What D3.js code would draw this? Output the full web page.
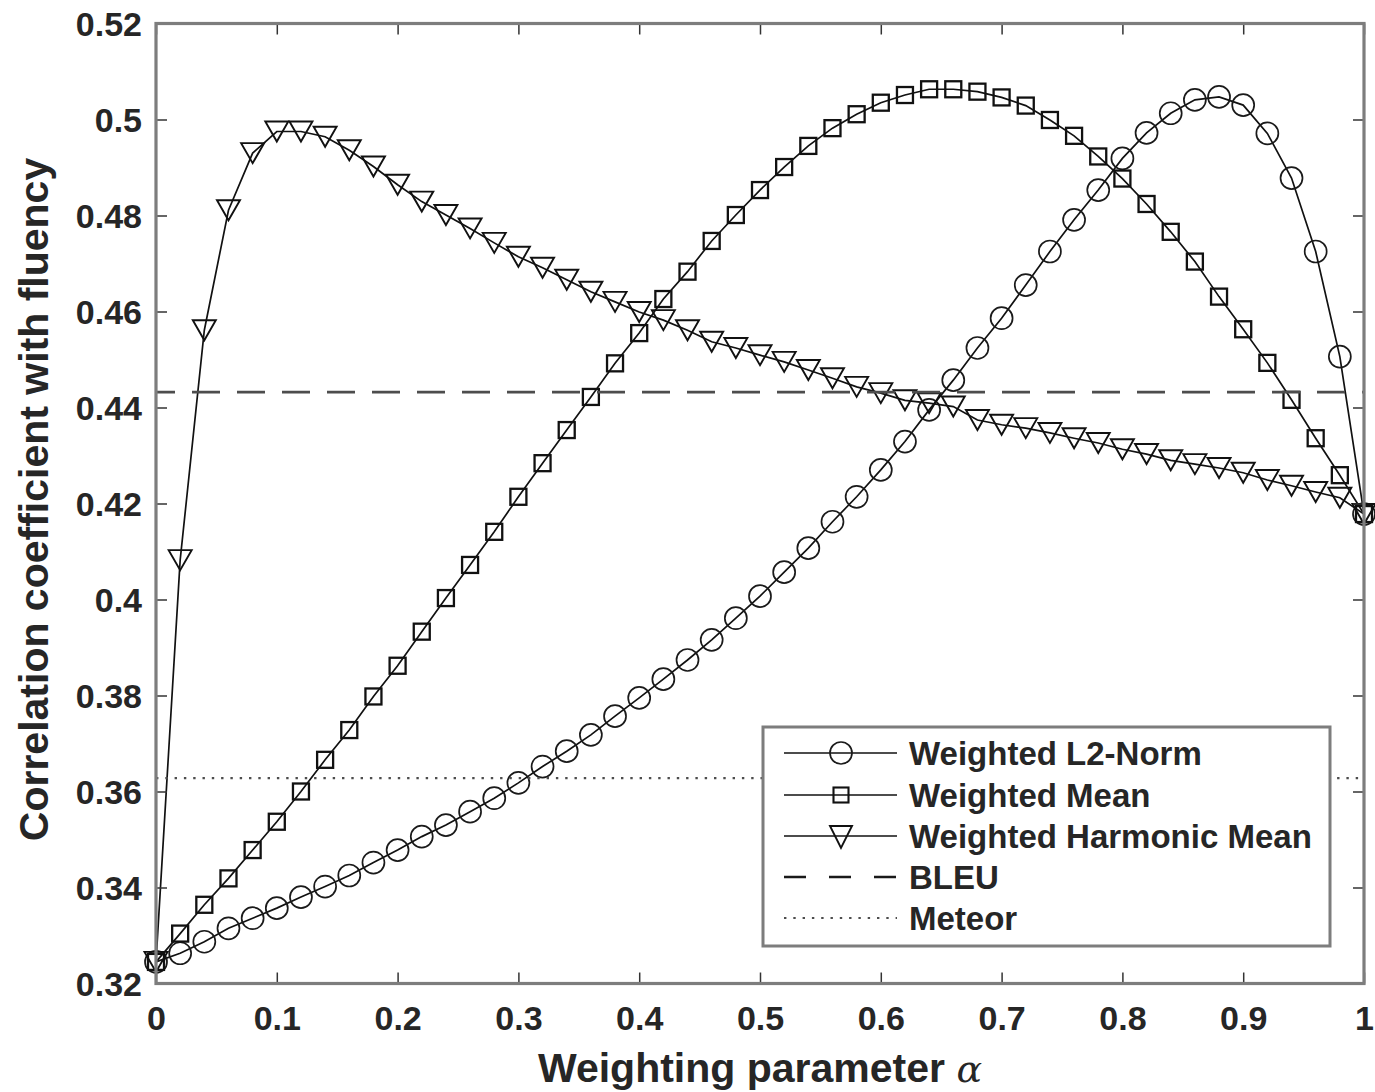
<!DOCTYPE html>
<html>
<head>
<meta charset="utf-8">
<script src="https://cdn.jsdelivr.net/npm/d3@7"></script>
<style>
  html, body { margin: 0; padding: 0; background: #fff; }
  svg { display: block; }
  text { font-family: "Liberation Sans", Arial, Helvetica, sans-serif; font-weight: bold; fill: #262626; }
</style>
</head>
<body>
<svg id="chart" width="1375" height="1092"></svg>
<script>
// Weighting parameter alpha (x positions of the markers)
const alpha = [0.00, 0.02, 0.04, 0.06, 0.08, 0.10, 0.12, 0.14, 0.16, 0.18,
               0.20, 0.22, 0.24, 0.26, 0.28, 0.30, 0.32, 0.34, 0.36, 0.38,
               0.40, 0.42, 0.44, 0.46, 0.48, 0.50, 0.52, 0.54, 0.56, 0.58,
               0.60, 0.62, 0.64, 0.66, 0.68, 0.70, 0.72, 0.74, 0.76, 0.78,
               0.80, 0.82, 0.84, 0.86, 0.88, 0.90, 0.92, 0.94, 0.96, 0.98, 1.00];

// Correlation coefficient with fluency for each combination
const l2Norm = [0.3245, 0.3263, 0.3287, 0.3315, 0.3336, 0.3357, 0.3380, 0.3402, 0.3425, 0.3452,
                0.3478, 0.3506, 0.3530, 0.3558, 0.3586, 0.3618, 0.3652, 0.3684, 0.3718, 0.3757,
                0.3795, 0.3834, 0.3874, 0.3916, 0.3961, 0.4007, 0.4057, 0.4107, 0.4162, 0.4214,
                0.4270, 0.4329, 0.4395, 0.4457, 0.4524, 0.4586, 0.4655, 0.4725, 0.4791, 0.4853,
                0.4919, 0.4972, 0.5013, 0.5041, 0.5047, 0.5030, 0.4971, 0.4878, 0.4725, 0.4506, 0.4178];

const weightedMean = [0.3245, 0.3304, 0.3364, 0.3419, 0.3478, 0.3537, 0.3600, 0.3666, 0.3728, 0.3798,
                      0.3862, 0.3933, 0.4003, 0.4072, 0.4141, 0.4214, 0.4284, 0.4353, 0.4422, 0.4492,
                      0.4555, 0.4626, 0.4683, 0.4747, 0.4801, 0.4853, 0.4901, 0.4945, 0.4982, 0.5011,
                      0.5035, 0.5051, 0.5063, 0.5063, 0.5058, 0.5046, 0.5029, 0.4999, 0.4966, 0.4923,
                      0.4877, 0.4824, 0.4766, 0.4704, 0.4631, 0.4563, 0.4493, 0.4416, 0.4336, 0.4259, 0.4178];

const harmonicMean = [0.3245, 0.4082, 0.4561, 0.4811, 0.4930, 0.4975, 0.4975, 0.4964, 0.4936, 0.4902,
                      0.4864, 0.4829, 0.4801, 0.4773, 0.4743, 0.4714, 0.4691, 0.4666, 0.4641, 0.4620,
                      0.4599, 0.4582, 0.4561, 0.4537, 0.4524, 0.4509, 0.4495, 0.4478, 0.4461, 0.4443,
                      0.4430, 0.4415, 0.4409, 0.4402, 0.4374, 0.4364, 0.4357, 0.4347, 0.4336, 0.4326,
                      0.4313, 0.4303, 0.4290, 0.4282, 0.4274, 0.4264, 0.4249, 0.4237, 0.4224, 0.4212, 0.4178];

// Baseline metrics (constant over alpha)
const bleuScore = 0.4432;
const meteorScore = 0.3628;

// Axis ticks
const xTickValues = [0, 0.1, 0.2, 0.3, 0.4, 0.5, 0.6, 0.7, 0.8, 0.9, 1];
const xTickLabels = ["0", "0.1", "0.2", "0.3", "0.4", "0.5", "0.6", "0.7", "0.8", "0.9", "1"];
const yTickValues = [0.32, 0.34, 0.36, 0.38, 0.40, 0.42, 0.44, 0.46, 0.48, 0.50, 0.52];
const yTickLabels = ["0.32", "0.34", "0.36", "0.38", "0.4", "0.42", "0.44", "0.46", "0.48", "0.5", "0.52"];

const seriesNames = ["Weighted L2-Norm", "Weighted Mean", "Weighted Harmonic Mean", "BLEU", "Meteor"];

// ---- layout ----
const plot = { left: 156, right: 1364, top: 23.5, bottom: 983.5 };
const svg = d3.select("#chart");

const x = d3.scaleLinear().domain([0, 1]).range([plot.left, plot.right]);
const y = d3.scaleLinear().domain([0.32, 0.52]).range([plot.bottom, plot.top]);

const axisColor = "#7d7d7d";
const tickColor = "#333";

// Markers, centred on the data point, unfilled so the line shows through
function drawMarker(g, kind, cx, cy) {
  if (kind === "circle") {
    g.append("circle").attr("cx", cx).attr("cy", cy).attr("r", 11)
      .attr("fill", "none").attr("stroke", "#1a1a1a").attr("stroke-width", 1.7);
  } else if (kind === "square") {
    const s = 16;
    g.append("rect").attr("x", cx - s / 2).attr("y", cy - s / 2).attr("width", s).attr("height", s)
      .attr("fill", "none").attr("stroke", "#111").attr("stroke-width", 2.3);
  } else if (kind === "triangle") {
    const w = 23, h = 20;
    g.append("path")
      .attr("d", `M${cx - w / 2},${cy - h / 2}L${cx + w / 2},${cy - h / 2}L${cx},${cy + h / 2}Z`)
      .attr("fill", "none").attr("stroke", "#111").attr("stroke-width", 1.9)
      .attr("stroke-linejoin", "miter");
  }
}

const series = [
  { name: seriesNames[0], values: l2Norm, marker: "circle" },
  { name: seriesNames[1], values: weightedMean, marker: "square" },
  { name: seriesNames[2], values: harmonicMean, marker: "triangle" }
];

const line = d3.line().x(d => x(d[0])).y(d => y(d[1]));

const plotG = svg.append("g");

series.forEach(s => {
  const pts = alpha.map((a, i) => [a, s.values[i]]);
  plotG.append("path").datum(pts)
    .attr("d", line).attr("fill", "none")
    .attr("stroke", "#111").attr("stroke-width", 1.7);
  const mg = plotG.append("g");
  pts.forEach(p => drawMarker(mg, s.marker, x(p[0]), y(p[1])));
});

// BLEU (dashed) and Meteor (dotted) reference lines
plotG.append("line")
  .attr("x1", x(0)).attr("x2", x(1))
  .attr("y1", y(bleuScore)).attr("y2", y(bleuScore))
  .attr("stroke", "#4d4d4d").attr("stroke-width", 2.6)
  .attr("stroke-dasharray", "28,17").attr("stroke-dashoffset", 9);

plotG.append("line")
  .attr("x1", x(0)).attr("x2", x(1))
  .attr("y1", y(meteorScore)).attr("y2", y(meteorScore))
  .attr("stroke", "#4d4d4d").attr("stroke-width", 2.2)
  .attr("stroke-dasharray", "2.4,6.9");

// ---- axes ----
const tickLen = 11;
const xAxisBottom = d3.axisBottom(x).tickValues(xTickValues)
  .tickFormat((d, i) => xTickLabels[i]).tickSizeInner(-tickLen).tickSizeOuter(0).tickPadding(22);
const xAxisTop = d3.axisTop(x).tickValues(xTickValues)
  .tickFormat("").tickSizeInner(-tickLen).tickSizeOuter(0);
const yAxisLeft = d3.axisLeft(y).tickValues(yTickValues)
  .tickFormat((d, i) => yTickLabels[i]).tickSizeInner(-tickLen).tickSizeOuter(0).tickPadding(14);
const yAxisRight = d3.axisRight(y).tickValues(yTickValues)
  .tickFormat("").tickSizeInner(-tickLen).tickSizeOuter(0);

function styleAxis(g) {
  g.select(".domain").remove();
  g.selectAll(".tick line").attr("stroke", tickColor).attr("stroke-width", 1.5);
  g.selectAll(".tick text")
    .attr("fill", "#262626")
    .style("font-family", '"Liberation Sans", Arial, Helvetica, sans-serif')
    .style("font-weight", "bold")
    .style("font-size", "34px");
}

svg.append("g").attr("transform", `translate(0,${plot.bottom})`).call(xAxisBottom).call(styleAxis)
  .selectAll(".tick text").attr("dy", "0.71em").attr("y", 22);
svg.append("g").attr("transform", `translate(0,${plot.top})`).call(xAxisTop).call(styleAxis);
svg.append("g").attr("transform", `translate(${plot.left},0)`).call(yAxisLeft).call(styleAxis)
  .selectAll(".tick text").attr("x", -14).attr("dy", "0.36em");
svg.append("g").attr("transform", `translate(${plot.right},0)`).call(yAxisRight).call(styleAxis);

// plot box
svg.append("rect")
  .attr("x", plot.left).attr("y", plot.top)
  .attr("width", plot.right - plot.left).attr("height", plot.bottom - plot.top)
  .attr("fill", "none").attr("stroke", axisColor).attr("stroke-width", 3.2);

// axis titles
const xTitle = svg.append("text")
  .attr("x", (plot.left + plot.right) / 2).attr("y", 1082)
  .attr("text-anchor", "middle").style("font-size", "41px");
xTitle.append("tspan").text("Weighting parameter ");
xTitle.append("tspan").text("\u03B1")
  .style("font-family", '"DejaVu Serif", "Liberation Serif", serif')
  .style("font-style", "italic").style("font-weight", "normal").style("font-size", "38px");

svg.append("text")
  .attr("transform", `translate(48,${(plot.top + plot.bottom) / 2 - 4}) rotate(-90)`)
  .attr("text-anchor", "middle").style("font-size", "41px")
  .text("Correlation coefficient with fluency");

// ---- legend ----
const legend = { x: 763, y: 727, w: 567, h: 219 };
const lg = svg.append("g");
lg.append("rect")
  .attr("x", legend.x).attr("y", legend.y).attr("width", legend.w).attr("height", legend.h)
  .attr("fill", "#fff").attr("stroke", axisColor).attr("stroke-width", 3);

const rowY = [753, 795, 836, 877, 918];
const sampleX1 = 784, sampleX2 = 897, sampleMid = 841, textX = 909;
const legendItems = [
  { name: seriesNames[0], kind: "circle" },
  { name: seriesNames[1], kind: "square" },
  { name: seriesNames[2], kind: "triangle" },
  { name: seriesNames[3], kind: "dash" },
  { name: seriesNames[4], kind: "dot" }
];
legendItems.forEach((it, i) => {
  const cy = rowY[i];
  const ln = lg.append("line")
    .attr("x1", sampleX1).attr("x2", sampleX2).attr("y1", cy).attr("y2", cy);
  if (it.kind === "dash") {
    ln.attr("stroke", "#1a1a1a").attr("stroke-width", 2.6).attr("stroke-dasharray", "22,23");
  } else if (it.kind === "dot") {
    ln.attr("stroke", "#4d4d4d").attr("stroke-width", 2.2).attr("stroke-dasharray", "2.4,6.9");
  } else {
    ln.attr("stroke", "#111").attr("stroke-width", 1.7);
    if (it.kind === "circle") {
      lg.append("circle").attr("cx", sampleMid).attr("cy", cy).attr("r", 11)
        .attr("fill", "none").attr("stroke", "#1a1a1a").attr("stroke-width", 1.7);
    } else if (it.kind === "square") {
      lg.append("rect").attr("x", sampleMid - 7.5).attr("y", cy - 7.5).attr("width", 15).attr("height", 15)
        .attr("fill", "none").attr("stroke", "#111").attr("stroke-width", 2.1);
    } else {
      lg.append("path")
        .attr("d", `M${sampleMid - 11},${cy - 10}L${sampleMid + 11},${cy - 10}L${sampleMid},${cy + 12}Z`)
        .attr("fill", "none").attr("stroke", "#111").attr("stroke-width", 1.9);
    }
  }
  lg.append("text").attr("x", textX).attr("y", cy).attr("dy", "0.36em")
    .style("font-size", "33px").text(it.name);
});
</script>
</body>
</html>
